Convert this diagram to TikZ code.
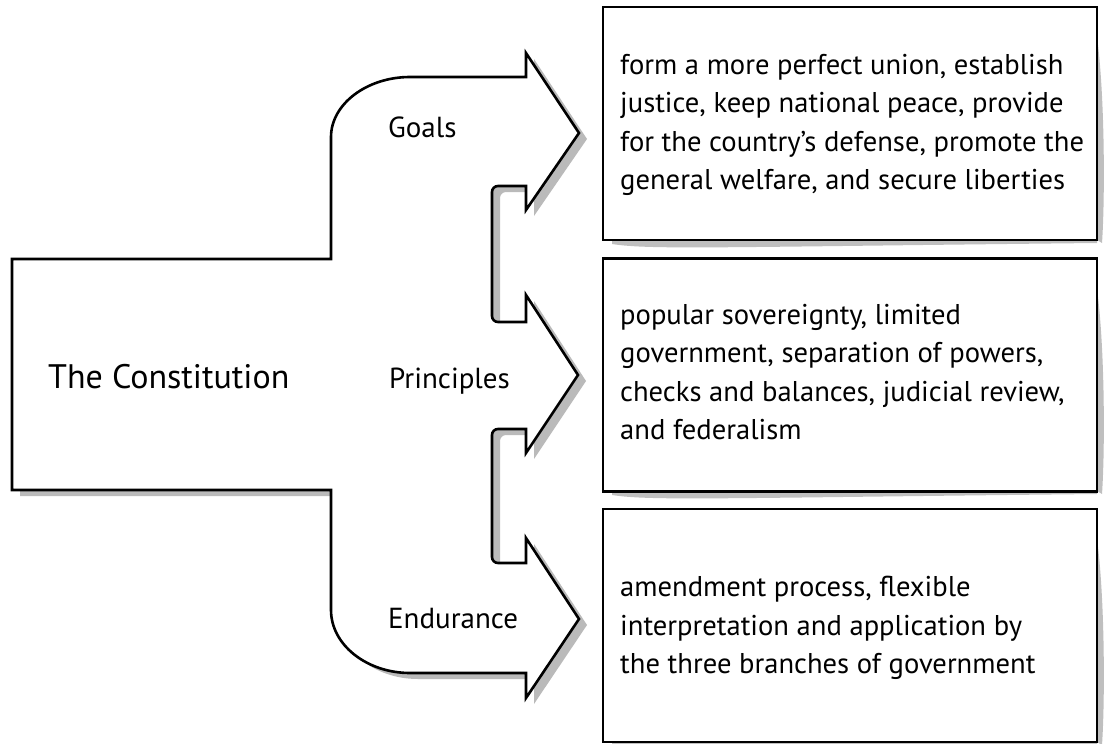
\documentclass[tikz,border=0pt]{standalone}
\usepackage{fontspec}
\setmainfont{PT Sans}
\begin{document}
\begin{tikzpicture}[x=1pt,y=-1pt,
  outline/.style={draw=black, line width=2.6pt, line join=miter},
  shadowfill/.style={fill=black!27, draw=none},
  txtbox/.style={outline, fill=white, minimum width=494pt, minimum height=233pt, inner sep=0pt},
  boxtext/.style={anchor=west, inner sep=0pt, align=left, font=\fontsize{28.6}{38.5}\selectfont},
  lbl/.style={anchor=base west, inner sep=0pt, font=\fontsize{29}{35}\selectfont},
  arrowshape/.style={insert path={
    (12,259) -- (331,259) -- (331,137) .. controls (331,104) and (367,77) .. (410,77)
    -- (526,77) -- (526,53) -- (579,133) -- (526,210) -- (526,186)
    [rounded corners=6pt] -- (492,186) -- (492,322) [sharp corners] -- (526,322)
    -- (526,295) -- (578,375) -- (526,453) -- (526,429)
    [rounded corners=6pt] -- (492,429) -- (492,563) [sharp corners] -- (526,563)
    -- (526,538) -- (579,619) -- (526,698) -- (526,673) -- (410,673)
    .. controls (367,673) and (331,645) .. (331,610) -- (331,490) -- (12,490) -- cycle}}]
\useasboundingbox (0,0) rectangle (1106,744);
% shadow and outline of the branching arrow
\path[shadowfill, shift={(8,6)}, arrowshape];
\path[outline, fill=white, arrowshape];
% box shadows
\foreach \t/\b in {7/240, 259/491, 509/742}{
  \fill[black!25] (612,\b) -- (612,\b+4) .. controls (650,\b+10) and (720,\b+7) .. (1097,\b+3) -- (1097,\b) -- cycle;
  \fill[black!25] (1097,\t+30) .. controls (1105,\t+90) and (1105,\b-40) .. (1102,\b+3) -- (1097,\b) -- cycle;
}
% boxes
\node[txtbox] (goals) at (850,123.5) {};
\node[txtbox] (principles) at (850,375) {};
\node[txtbox] (endurance) at (850,625.5) {};
\node[boxtext] (goalstext) at (620,125) {form a more perfect union, establish\\justice, keep national peace, provide\\for the country’s defense, promote the\\general welfare, and secure liberties};
\node[boxtext] (principlestext) at (620,372) {popular sovereignty, limited\\government, separation of powers,\\checks and balances, judicial review,\\and federalism};
\node[boxtext] (endurancetext) at (620,628) {amendment process, flexible\\interpretation and application by\\the three branches of government};
% labels
\node[lbl, font=\fontsize{34}{40}\selectfont] (constitution) at (48,388) {The Constitution};
\node[lbl] (goalslbl) at (388,137) {Goals};
\node[lbl] (principleslbl) at (389,388) {Principles};
\node[lbl] (endurancelbl) at (388,628) {Endurance};
\end{tikzpicture}
\end{document}
